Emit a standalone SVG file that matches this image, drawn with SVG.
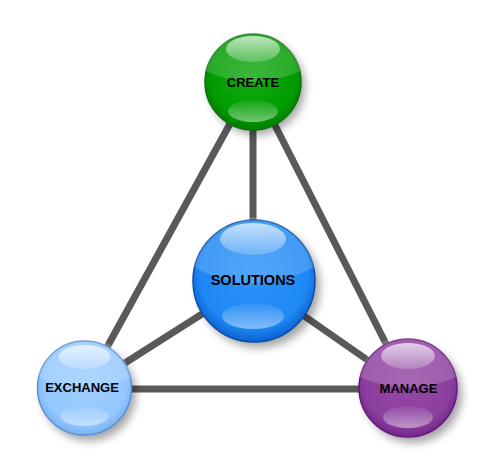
<svg xmlns="http://www.w3.org/2000/svg" width="497" height="472" viewBox="0 0 497 472">
  <defs>
    <filter id="shadow" x="-30%" y="-30%" width="170%" height="170%">
      <feGaussianBlur stdDeviation="4"/>
    </filter>
    <linearGradient id="hl" x1="0" y1="0" x2="0" y2="1">
      <stop offset="0" stop-color="#fff" stop-opacity="0.7"/>
      <stop offset="1" stop-color="#fff" stop-opacity="0.2"/>
    </linearGradient>
    <linearGradient id="rf" x1="0" y1="0" x2="0" y2="1">
      <stop offset="0" stop-color="#fff" stop-opacity="0.05"/>
      <stop offset="1" stop-color="#fff" stop-opacity="0.45"/>
    </linearGradient>
    <radialGradient id="gGreen" cx="0.5" cy="0.45" r="0.55">
      <stop offset="0" stop-color="#12aa12"/>
      <stop offset="0.8" stop-color="#009c00"/>
      <stop offset="1" stop-color="#007d00"/>
    </radialGradient>
    <radialGradient id="gBlue" cx="0.5" cy="0.45" r="0.55">
      <stop offset="0" stop-color="#2e93f8"/>
      <stop offset="0.8" stop-color="#1e88f4"/>
      <stop offset="1" stop-color="#0a62d0"/>
    </radialGradient>
    <radialGradient id="gLight" cx="0.5" cy="0.45" r="0.55">
      <stop offset="0" stop-color="#9ccdff"/>
      <stop offset="0.8" stop-color="#94c8ff"/>
      <stop offset="1" stop-color="#78b2f0"/>
    </radialGradient>
    <radialGradient id="gPurple" cx="0.5" cy="0.45" r="0.55">
      <stop offset="0" stop-color="#9448a6"/>
      <stop offset="0.8" stop-color="#8c3f9e"/>
      <stop offset="1" stop-color="#72278a"/>
    </radialGradient>
  </defs>
  <style>
    .line { stroke: #595959; stroke-width: 7; fill: none; }
    .shadow { fill: #000; opacity: 0.35; filter: url(#shadow); }
    .up { fill: #fff; opacity: 0.17; }
    .hl { fill: url(#hl); }
    .rf { fill: url(#rf); }
    .label { font-family: "Liberation Sans", Arial, sans-serif; font-weight: bold; fill: #000; text-anchor: middle; }
  </style>
  <g id="connectors">
    <line class="line" x1="253" y1="82" x2="84" y2="389"/>
    <line class="line" x1="253" y1="82" x2="409" y2="389"/>
    <line class="line" x1="253" y1="82" x2="253" y2="281"/>
    <line class="line" x1="84" y1="389" x2="409" y2="389"/>
    <line class="line" x1="254" y1="281" x2="84" y2="389"/>
    <line class="line" x1="254" y1="281" x2="409" y2="389"/>
  </g>
  <g id="create">
    <circle class="shadow" cx="257" cy="87" r="48"/>
    <circle cx="253" cy="82" r="48" fill="url(#gGreen)" stroke="#0b750b" stroke-width="1.5"/>
    <path class="up" d="M205.5,71 A48,48 0 0 1 300.5,71 Q253,92 205.5,71 Z"/>
    <ellipse class="hl" cx="253" cy="49" rx="27" ry="13"/>
    <ellipse class="rf" cx="253" cy="111" rx="25" ry="11"/>
    <text class="label" x="253" y="87" font-size="13">CREATE</text>
  </g>
  <g id="solutions">
    <circle class="shadow" cx="259" cy="287" r="61"/>
    <circle cx="254" cy="281" r="61" fill="url(#gBlue)" stroke="#0c4fa8" stroke-width="1.5"/>
    <path class="up" d="M194,267 A61,61 0 0 1 314,267 Q254,300 194,267 Z"/>
    <ellipse class="hl" cx="253" cy="239" rx="33" ry="16"/>
    <ellipse class="rf" cx="253" cy="316" rx="31" ry="13"/>
    <text class="label" x="253" y="285" font-size="14.5">SOLUTIONS</text>
  </g>
  <g id="exchange">
    <circle class="shadow" cx="89" cy="394" r="47"/>
    <circle cx="84.5" cy="388" r="47" fill="url(#gLight)" stroke="#5b8fd4" stroke-width="1.5"/>
    <path class="up" d="M38,377 A47,47 0 0 1 131,377 Q84.5,398 38,377 Z"/>
    <ellipse class="hl" cx="84.5" cy="357" rx="26" ry="12"/>
    <ellipse class="rf" cx="84.5" cy="416" rx="24" ry="10"/>
    <text class="label" x="82" y="392" font-size="13">EXCHANGE</text>
  </g>
  <g id="manage">
    <circle class="shadow" cx="413" cy="394" r="49"/>
    <circle cx="408" cy="388" r="49" fill="url(#gPurple)" stroke="#6a1780" stroke-width="1.5"/>
    <path class="up" d="M359.5,377 A49,49 0 0 1 456.5,377 Q408,398 359.5,377 Z"/>
    <ellipse class="hl" cx="408" cy="356" rx="27" ry="13"/>
    <ellipse class="rf" cx="408" cy="417" rx="25" ry="11"/>
    <text class="label" x="408.5" y="393" font-size="13">MANAGE</text>
  </g>
</svg>
